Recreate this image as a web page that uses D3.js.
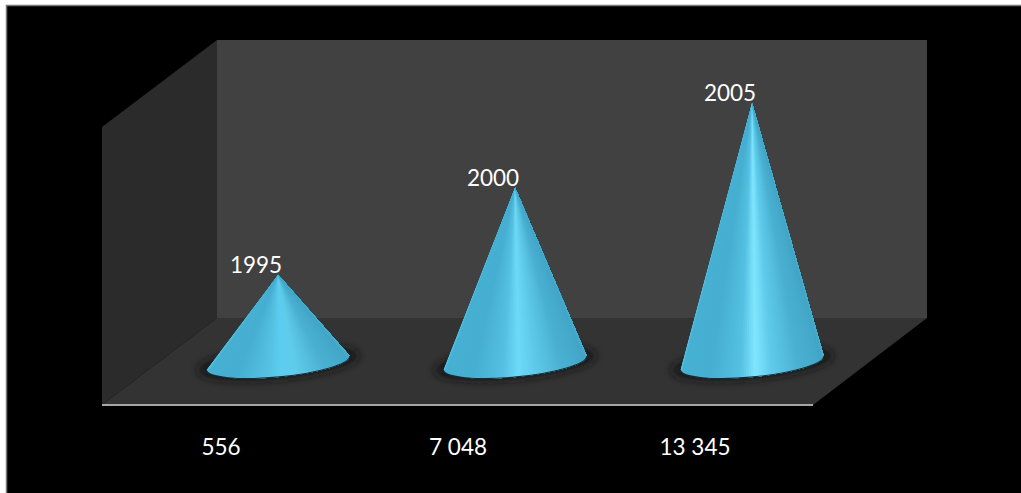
<!DOCTYPE html>
<html>
<head>
<meta charset="utf-8">
<script src="https://cdn.jsdelivr.net/npm/d3@7/dist/d3.min.js"></script>
<style>
html, body { margin: 0; padding: 0; background: #fff; overflow: hidden; }
svg { display: block; }
text { font-family: Lato, "Open Sans", sans-serif; font-size: 22.5px; fill: #fff; }
</style>
</head>
<body>
<svg id="chart" width="1021" height="493"></svg>
<script>
// values
const years = ["1995", "2000", "2005"];
const values = [556, 7048, 13345];
const valueLabels = ["556", "7 048", "13 345"];

const svg = d3.select("#chart");
const defs = svg.append("defs");

// outer frame
svg.append("rect").attr("width", 1021).attr("height", 493).attr("fill", "#fff");
svg.append("rect").attr("x", 6).attr("y", 5).attr("width", 1015).attr("height", 488).attr("fill", "#000");
svg.append("path").attr("d", "M6.5,493V5.5H1021").attr("fill", "none").attr("stroke", "#777").attr("stroke-width", 1.5);

// box corners
const backL = 217, backR = 927, backT = 40, backB = 318;
const frontL = 102, frontR = 813, frontB = 405, frontT = 127;

const y = d3.scaleLinear().domain([-6000, 14000]).range([363, 94]);
const x = d3.scalePoint().domain(years).range([278, 752]);

svg.append("polygon").attr("fill", "#2b2b2b")
    .attr("points", [[frontL, frontT], [backL, backT], [backL, backB], [frontL, frontB]].join(" "));
svg.append("rect").attr("fill", "#414141")
    .attr("x", backL).attr("y", backT).attr("width", backR - backL).attr("height", backB - backT);
svg.append("polygon").attr("fill", "#333333")
    .attr("points", [[backL, backB], [backR, backB], [frontR, frontB], [frontL, frontB]].join(" "));
svg.append("line").attr("x1", frontL).attr("x2", frontR).attr("y1", frontB).attr("y2", frontB)
    .attr("stroke", "#a6a6a6").attr("stroke-width", 2);

// soft shadow below each cone
defs.append("filter").attr("id", "blur").attr("x", "-30%").attr("y", "-100%").attr("width", "160%").attr("height", "300%")
    .append("feGaussianBlur").attr("stdDeviation", 4);

// shading across the cone, the highlight is brighter on taller cones
const midColor = d3.scaleLinear().domain([556, 13345]).range(["#5ccdf0", "#80e6ff"]);
const shade = function (v) {
    return d3.scaleLinear()
        .domain([0, .07, .3, .44, .51, .58, .72, .92, 1])
        .range(["#5fc8e6", "#47b0d3", "#47afd1", "#55c0e2", midColor(v), "#60cbeb", "#4ab0d1", "#42a5c6", "#4ab0cf"]);
};

const rx = 72, ry = 14, tilt = -5.5, slices = 90;
const rad = tilt * Math.PI / 180;
const dx = rx * Math.cos(rad), dy = rx * Math.sin(rad);
const baseY = y.range()[0];

// point on the tilted base ellipse, t goes from left end to right end along the front
function basePoint(cx, t) {
    let a = Math.PI * (1 - t);
    let ex = rx * Math.cos(a), ey = ry * Math.sin(a);
    return [cx + ex * Math.cos(rad) - ey * Math.sin(rad), baseY + ex * Math.sin(rad) + ey * Math.cos(rad)];
}

let outline = (d, i) => {
    let cx = x(years[i]);
    return `M${cx},${y(d)}L${cx - dx},${baseY - dy}A${rx},${ry} ${tilt} 0 0 ${cx + dx},${baseY + dy}Z`;
};

values.forEach((v, i) => {
    defs.append("clipPath").attr("id", "clip" + i).append("path").attr("d", outline(v, i));
});

const cones = svg.selectAll("g.cone").data(values).enter().append("g").attr("class", "cone");

cones.append("ellipse")
    .attr("rx", rx + 9).attr("ry", ry + 2)
    .attr("transform", (d, i) => `translate(${x(years[i])},${baseY}) rotate(${tilt})`)
    .attr("fill", "#141414").attr("filter", "url(#blur)");

cones.each(function (v, i) {
    let cx = x(years[i]);
    let color = shade(v);
    let body = d3.select(this).append("g").attr("clip-path", `url(#clip${i})`);
    // wedges from the tip, each painted over the rest so the shading meets at the point
    body.selectAll("path").data(d3.range(slices)).enter().append("path")
        .attr("d", k => {
            let p = basePoint(cx, k / slices);
            return `M${cx},${y(v)}L${p}L${cx + rx + 5},${baseY + ry + 20}L${cx + rx + 5},${y(v)}Z`;
        })
        .attr("fill", k => color((k + .5) / slices));
});

// dark edge under the base
cones.append("path")
    .attr("fill", "none").attr("stroke", "#0b3140").attr("stroke-width", 1.2)
    .attr("d", (d, i) => {
        let cx = x(years[i]);
        return `M${cx - dx},${baseY - dy}A${rx},${ry} ${tilt} 0 0 ${cx + dx},${baseY + dy}`;
    });

svg.selectAll("text.year").data(years).enter().append("text").attr("class", "year")
    .attr("text-anchor", "middle")
    .attr("x", d => x(d) - 22)
    .attr("y", (d, i) => y(values[i]) - 2)
    .text(d => d);

svg.selectAll("text.value").data(valueLabels).enter().append("text").attr("class", "value")
    .attr("text-anchor", "middle")
    .attr("x", (d, i) => x(years[i]) - 57)
    .attr("y", 455)
    .text(d => d);
</script>
</body>
</html>
